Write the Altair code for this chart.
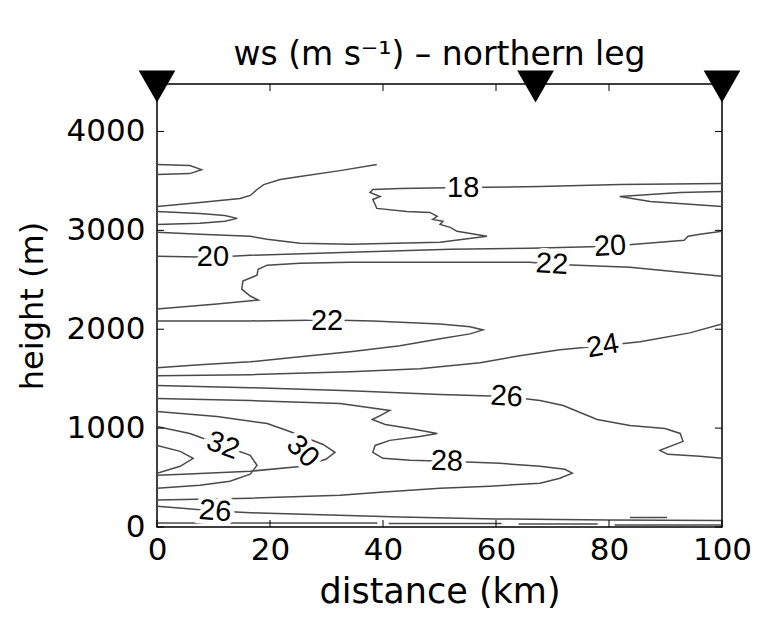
import altair as alt
import pandas as pd

# Isotachs of wind speed along the northern leg: (distance km, height m) vertices
iso_top_lobe = [(0, 3665), (5.8, 3655), (7.9, 3614), (5.8, 3574), (0, 3564)]
iso_top_tongue = [(0, 3242), (7.6, 3282), (14.7, 3322), (16.5, 3353), (17.7, 3413),
                  (18.9, 3463), (21.8, 3514), (25.3, 3544), (32.4, 3604), (38.9, 3665)]
iso_upper_lobe = [(0, 3191), (7.6, 3171), (12, 3151), (14.2, 3121), (12, 3091),
                  (7.6, 3071), (0, 3060)]
iso_18 = [(0, 2980), (7.6, 2960), (16.5, 2940), (19.5, 2910), (25.3, 2869), (34.2, 2859),
          (50.1, 2879), (58.4, 2940), (53.1, 2990), (51.9, 3030), (50.1, 3060), (50.6, 3091),
          (48.8, 3111), (49.6, 3141), (48.3, 3181), (44.2, 3191), (38.9, 3222), (38.6, 3262),
          (38.2, 3312), (39.5, 3342), (37.7, 3383), (38.2, 3413), (43, 3423), (54.2, 3433),
          (67.8, 3443), (81.9, 3463), (100, 3473)]
iso_right_lobe = [(100, 3393), (92.6, 3383), (81.9, 3342), (87.3, 3292), (100, 3242)]
iso_20 = [(0, 2738), (9.9, 2728), (16.5, 2748), (34.2, 2779), (51.9, 2809), (66, 2819),
          (80.2, 2839), (89, 2879), (93.3, 2899), (94, 2940), (96.1, 2960), (100, 2990)]
iso_22_upper = [(0, 2205), (10.6, 2255), (17.9, 2295), (16.5, 2336), (15, 2406), (15.2, 2487),
                (17.7, 2547), (17.9, 2607), (19.5, 2648), (25.3, 2668), (34.2, 2678),
                (51.9, 2678), (66, 2678), (69.9, 2658), (83.7, 2628), (100, 2537)]
iso_22_lower = [(0, 2084), (16.5, 2084), (30.6, 2094), (38.2, 2084), (50.1, 2054),
                (55.4, 2024), (57.7, 1993), (55.4, 1953), (50.1, 1903), (43, 1832),
                (34.2, 1772), (25.3, 1721), (16.5, 1671), (7.6, 1641), (0, 1611)]
iso_24 = [(0, 1530), (16.5, 1540), (34.2, 1571), (46.5, 1601), (57.2, 1661), (64.2, 1732),
          (71.3, 1792), (78.9, 1832), (85.5, 1873), (94.3, 1963), (100, 2054)]
iso_26_upper = [(0, 1430), (16.5, 1409), (34.2, 1379), (50.1, 1339), (61.9, 1319),
                (67.8, 1279), (71.9, 1228), (77.9, 1087), (83.7, 1027), (89.9, 997),
                (92.6, 946), (93.1, 866), (89, 775), (90.4, 735), (96.1, 715), (100, 695)]
iso_28 = [(0, 1299), (16.5, 1279), (32.4, 1248), (41.2, 1178), (39.5, 1127), (38.1, 1087),
          (40.4, 1037), (44.8, 997), (49.6, 946), (46.5, 916), (41.2, 876), (38.6, 825),
          (38.2, 755), (40, 695), (44.8, 674), (51.3, 664), (60.7, 644), (67.8, 614),
          (72.2, 584), (73.5, 544), (71.3, 493), (67.8, 443), (58.9, 413), (50.1, 393),
          (39.5, 352), (32.4, 322), (16.5, 292), (0, 272)]
iso_30 = [(0, 1168), (10.6, 1117), (19.5, 1047), (23.5, 966), (29.4, 835), (31.5, 755),
          (29.9, 685), (25.8, 614), (16.5, 564), (4.6, 534), (0, 524)]
iso_32 = [(0, 1017), (5.8, 946), (11.7, 825), (16.5, 725), (17.7, 624), (16.5, 534),
          (12.9, 463), (7.6, 423), (0, 393)]
iso_34 = [(0, 825), (4.1, 765), (6.4, 695), (4.1, 614), (0, 544)]
iso_26_lower = [(0, 211), (5, 186), (10.3, 161), (18.2, 141), (30.6, 121), (43, 101),
                (60, 81), (80, 70), (100, 65)]
sfc_a = [(0, 40), (39, 40)]
sfc_b = [(41, 35), (61, 35)]
sfc_c = [(64, 30), (78, 30)]
sfc_d = [(81, 20), (100, 20)]
sfc_e = [(83.7, 95), (90.3, 95)]

isotachs = {
    "top_lobe": iso_top_lobe, "top_tongue": iso_top_tongue, "upper_lobe": iso_upper_lobe,
    "18": iso_18, "right_lobe": iso_right_lobe, "20": iso_20, "22u": iso_22_upper,
    "22l": iso_22_lower, "24": iso_24, "26u": iso_26_upper, "28": iso_28, "30": iso_30,
    "32": iso_32, "34": iso_34, "26l": iso_26_lower, "sa": sfc_a, "sb": sfc_b,
    "sc": sfc_c, "sd": sfc_d, "se": sfc_e,
}

# Contour labels
label_text = ["18", "20", "20", "22", "22", "24", "26", "28", "30", "32", "26"]
label_km = [54.2, 9.9, 80.2, 69.9, 30.1, 78.9, 61.9, 51.3, 25.8, 11.7, 10.3]
label_m = [3433, 2728, 2839, 2658, 2084, 1832, 1319, 664, 765, 825, 161]
label_angle = [0, 0, 357, 3, 0, 350, 4, 2, 45, 20, 5]

# Waypoint markers along the top
station_km = [0, 67, 100]

x_ticks = [0, 20, 40, 60, 80, 100]
y_ticks = [0, 1000, 2000, 3000, 4000]

rows = []
for name, pts in isotachs.items():
    for i, (km, m) in enumerate(pts):
        rows.append({"line": name, "idx": i, "km": km, "m": m})
lines_df = pd.DataFrame(rows)
labels_df = pd.DataFrame({"text": label_text, "km": label_km, "m": label_m, "angle": label_angle})
stations_df = pd.DataFrame({"km": station_km})
xt_df = pd.DataFrame({"km": x_ticks})
yt_df = pd.DataFrame({"m": y_ticks})

FONT = "DejaVu Sans"
W, H = 565, 443
xs = alt.Scale(domain=[0, 100], nice=False, zero=False)
ys = alt.Scale(domain=[0, 4480], nice=False, zero=False)

x_axis = alt.Axis(values=x_ticks, ticks=False, domain=False, grid=False, labelFlush=False,
                  labelFont=FONT, labelFontSize=31, labelColor="black", labelPadding=8,
                  title="distance (km)", titleFont=FONT, titleFontSize=35,
                  titleFontWeight="normal", titleColor="black", titlePadding=9)
y_axis = alt.Axis(values=y_ticks, format="d", ticks=False, domain=False, grid=False,
                  labelFont=FONT, labelFontSize=31, labelColor="black", labelPadding=12,
                  title="height (m)", titleFont=FONT, titleFontSize=32,
                  titleFontWeight="normal", titleColor="black", titlePadding=17)

X = alt.X("km:Q", scale=xs, axis=x_axis)
Y = alt.Y("m:Q", scale=ys, axis=y_axis)

contours = alt.Chart(lines_df).mark_line(color="#4a4a4a", strokeWidth=1.5, clip=True).encode(
    x=X, y=Y, detail="line:N", order="idx:Q",
)

halo = alt.Chart(labels_df).mark_text(font="Liberation Sans", fontSize=29, color="white",
                                      stroke="white", strokeWidth=9).encode(
    x=X, y=Y, text="text:N", angle=alt.Angle("angle:Q", scale=None),
)
labels = alt.Chart(labels_df).mark_text(font="Liberation Sans", fontSize=29, color="black").encode(
    x=X, y=Y, text="text:N", angle=alt.Angle("angle:Q", scale=None),
)

# inward tick marks on all four sides
ticks_bottom = alt.Chart(xt_df).mark_rule(color="black", strokeWidth=1).encode(
    x=X, y=alt.value(H), y2=alt.value(H - 7))
ticks_top = alt.Chart(xt_df).mark_rule(color="black", strokeWidth=1).encode(
    x=X, y=alt.value(0), y2=alt.value(7))
ticks_left = alt.Chart(yt_df).mark_rule(color="black", strokeWidth=1).encode(
    y=Y, x=alt.value(0), x2=alt.value(7))
ticks_right = alt.Chart(yt_df).mark_rule(color="black", strokeWidth=1).encode(
    y=Y, x=alt.value(W), x2=alt.value(W - 7))

stations = alt.Chart(stations_df).mark_point(shape="triangle-down", filled=True, color="black",
                                             opacity=1, size=1350, clip=False).encode(
    x=X, y=alt.value(2.5),
)

chart = alt.layer(
    contours, halo, labels, ticks_bottom, ticks_top, ticks_left, ticks_right, stations
).properties(
    width=W,
    height=H,
    title=alt.TitleParams("ws (m s⁻¹) – northern leg", font=FONT, fontSize=33,
                          fontWeight="normal", color="black", anchor="middle", offset=-1),
    autosize=alt.AutoSizeParams(type="none"),
    padding={"left": 157, "top": 84, "right": 37, "bottom": 98},
).configure_view(stroke="black", strokeWidth=1.5)

chart.save("out.html", embed_options={"renderer": "svg", "actions": False})
